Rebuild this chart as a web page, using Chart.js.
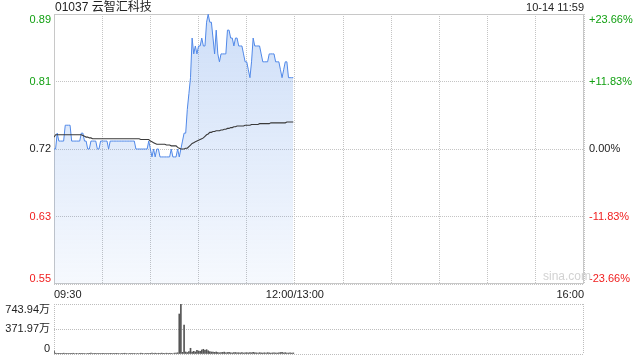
<!DOCTYPE html>
<html><head><meta charset="utf-8">
<script src="https://cdn.jsdelivr.net/npm/chart.js@4/dist/chart.umd.min.js"></script>
<style>
html,body{margin:0;padding:0;background:#fff;width:640px;height:360px;overflow:hidden}
#wrap{position:relative;width:640px;height:360px;font-family:"Liberation Sans",Arial,"Noto Sans CJK SC",sans-serif}
#title{position:absolute;left:55px;top:0;font-size:12px;line-height:14px;color:#222;white-space:nowrap}
#stamp{position:absolute;right:56px;top:1px;font-size:11px;line-height:12px;color:#222;white-space:nowrap}
#wm{position:absolute;left:543px;top:269px;font-size:12px;line-height:14px;color:#d2d2d2;white-space:nowrap}
#priceChart{position:absolute;left:0;top:0}
#volChart{position:absolute;left:0;top:300px}
</style></head>
<body><div id="wrap">
<canvas id="priceChart" width="640" height="300"></canvas>
<canvas id="volChart" width="640" height="60"></canvas>
<div id="title">01037 云智汇科技</div>
<div id="stamp">10-14 11:59</div>
<div id="wm">sina.com</div>
</div>
<script>
// ---- data ----
const prevClose = 0.72;
const pctRange = 23.66;
const prices = [
0.72,0.72,0.74,0.73,0.73,0.73,0.73,0.75,0.75,0.75,
0.75,0.73,0.73,0.73,0.73,0.73,0.73,0.74,0.74,0.73,
0.73,0.72,0.72,0.73,0.73,0.73,0.73,0.72,0.72,0.73,
0.73,0.73,0.73,0.73,0.72,0.73,0.73,0.73,0.73,0.73,
0.73,0.73,0.73,0.73,0.73,0.73,0.73,0.73,0.73,0.73,
0.73,0.72,0.72,0.72,0.72,0.72,0.72,0.72,0.72,0.73,
0.72,0.71,0.72,0.71,0.72,0.72,0.71,0.71,0.71,0.71,
0.71,0.71,0.71,0.72,0.71,0.71,0.71,0.72,0.71,0.72,
0.73,0.74,0.74,0.77,0.79,0.81,0.86,0.84,0.85,0.84,
0.85,0.85,0.86,0.85,0.85,0.88,0.89,0.88,0.88,0.86,
0.84,0.87,0.84,0.83,0.84,0.84,0.84,0.84,0.87,0.87,
0.86,0.86,0.85,0.86,0.86,0.85,0.85,0.85,0.84,0.83,
0.83,0.82,0.81,0.83,0.86,0.85,0.85,0.85,0.85,0.84,
0.83,0.83,0.83,0.83,0.84,0.84,0.84,0.84,0.83,0.83,
0.83,0.82,0.81,0.82,0.83,0.83,0.81,0.81,0.81,0.81
];
const avgPrices = [
0.735,0.738,0.738,0.738,0.738,0.738,0.738,0.738,0.738,0.738,
0.738,0.738,0.738,0.738,0.738,0.738,0.738,0.738,0.737,0.736,
0.735,0.735,0.734,0.734,0.733,0.733,0.733,0.733,0.733,0.733,
0.733,0.733,0.733,0.733,0.733,0.733,0.733,0.733,0.733,0.733,
0.733,0.733,0.733,0.733,0.733,0.733,0.733,0.733,0.733,0.733,
0.733,0.733,0.733,0.733,0.732,0.732,0.732,0.732,0.732,0.732,
0.730,0.729,0.728,0.727,0.726,0.726,0.726,0.726,0.726,0.726,
0.725,0.725,0.725,0.724,0.724,0.724,0.724,0.722,0.721,0.720,
0.720,0.720,0.721,0.721,0.723,0.725,0.727,0.728,0.729,0.730,
0.731,0.732,0.733,0.734,0.736,0.738,0.739,0.741,0.741,0.742,
0.742,0.743,0.743,0.743,0.744,0.744,0.745,0.745,0.746,0.746,
0.747,0.747,0.748,0.748,0.749,0.749,0.749,0.749,0.749,0.750,
0.750,0.750,0.750,0.751,0.751,0.751,0.751,0.751,0.752,0.752,
0.752,0.752,0.752,0.752,0.752,0.753,0.753,0.753,0.753,0.753,
0.753,0.753,0.753,0.753,0.753,0.754,0.754,0.754,0.754,0.754
];
const volumes = [
45,12,8,10,6,9,12,7,10,8,
6,9,11,7,5,8,10,6,9,7,
8,6,10,12,7,9,6,8,11,7,
9,6,8,10,7,5,8,9,6,10,
7,8,6,9,11,7,8,6,10,8,
9,7,6,8,12,10,7,9,6,8,
10,14,9,12,8,11,9,13,10,8,
12,9,11,10,8,13,15,18,595,744,
25,431,30,22,35,85,28,40,30,55,
45,38,60,70,55,65,48,35,30,28,
25,30,22,18,20,24,28,19,22,25,
18,15,20,22,17,19,16,21,15,18,
20,16,22,18,25,19,17,15,20,16,
14,18,15,20,17,13,16,19,15,14,
18,22,25,16,20,15,14,17,13,16
];
const gridMinutes = [0,30,60,90,120,150,180,210,240,270,300,330];
const timeTickMinutes = [0,150,330];
const timeTickLabels = ['09:30','12:00/13:00','16:00'];
const pctTicks = [23.66,11.83,0,-11.83,-23.66];
const priceTickLabels = ['0.89','0.81','0.72','0.63','0.55'];
const pctTickLabels = ['+23.66%','+11.83%','0.00%','-11.83%','-23.66%'];
const volTicks = [743.94,371.97,0];
const volTickLabels = ['743.94万','371.97万','0'];

const FONT = '"Liberation Sans", Arial, "Noto Sans CJK SC", sans-serif';
const GREEN = '#12a012', RED = '#f01e1e', DARK = '#222';
const labelColors = [GREEN, GREEN, DARK, RED, RED];

function vAlignFor(i, n){ return i === 0 ? 'top' : (i === n-1 ? 'bottom' : 'middle'); }

const priceFrame = {
  id: 'priceFrame',
  beforeDatasetsDraw(chart){
    const {ctx, chartArea:a} = chart;
    ctx.save();
    ctx.strokeStyle = '#c8c8c8'; ctx.lineWidth = 1;
    ctx.strokeRect(Math.round(a.left)+0.5, Math.round(a.top)+0.5, Math.round(a.right-a.left)-1, Math.round(a.bottom-a.top)-1);
    ctx.restore();
  },
  afterDraw(chart){
    const {ctx, chartArea:a, scales} = chart;
    ctx.save();
    ctx.font = '11px ' + FONT;
    pctTicks.forEach((v, i) => {
      const y = scales.y2.getPixelForValue(v);
      ctx.textBaseline = vAlignFor(i, pctTicks.length);
      ctx.fillStyle = labelColors[i];
      ctx.textAlign = 'right';
      ctx.fillText(priceTickLabels[i], a.left - 3, y);
      ctx.textAlign = 'left';
      ctx.fillText(pctTickLabels[i], a.right + 5, y);
    });
    ctx.restore();
  }
};

const volFrame = {
  id: 'volFrame',
  beforeDatasetsDraw(chart){
    const {ctx, chartArea:a} = chart;
    ctx.save();
    ctx.strokeStyle = '#bdbdbd'; ctx.lineWidth = 1; ctx.setLineDash([1,1]);
    ctx.beginPath();
    ctx.moveTo(Math.round(a.left)+0.5, a.top); ctx.lineTo(Math.round(a.left)+0.5, a.bottom);
    ctx.moveTo(Math.round(a.right)-0.5, a.top); ctx.lineTo(Math.round(a.right)-0.5, a.bottom);
    ctx.stroke();
    ctx.restore();
  },
  afterDraw(chart){
    const {ctx, chartArea:a, scales} = chart;
    ctx.save();
    ctx.font = '11px ' + FONT;
    ctx.fillStyle = DARK; ctx.textAlign = 'right';
    volTicks.forEach((v, i) => {
      const y = scales.y.getPixelForValue(v);
      ctx.textBaseline = vAlignFor(i, volTicks.length);
      ctx.fillText(volTickLabels[i], a.left - 4, y);
    });
    ctx.restore();
  }
};

function fillGradient(c){
  const {ctx, chartArea} = c.chart;
  if (!chartArea) return 'rgba(79,138,230,0.15)';
  const g = ctx.createLinearGradient(0, chartArea.top, 0, chartArea.bottom);
  g.addColorStop(0, 'rgba(79,138,230,0.28)');
  g.addColorStop(1, 'rgba(79,138,230,0.05)');
  return g;
}

new Chart(document.getElementById('priceChart'), {
  type: 'line',
  data: { datasets: [
    { data: avgPrices.map((p,i)=>({x:i,y:p})), borderColor:'#3a3a3a', borderWidth:1.1, pointRadius:0, fill:false, yAxisID:'y', order:1 },
    { data: prices.map((p,i)=>({x:i,y:p})), borderColor:'#5088e8', borderWidth:1, pointRadius:0, fill:'start', backgroundColor: fillGradient, yAxisID:'y', order:2 }
  ]},
  options: {
    responsive:false, animation:false, devicePixelRatio:1,
    layout:{padding:{top:14,left:0,right:0,bottom:0}},
    plugins:{legend:{display:false}, tooltip:{enabled:false}},
    scales:{
      x:{type:'linear', min:0, max:330,
        afterBuildTicks: s => { s.ticks = gridMinutes.map(v=>({value:v})); },
        grid:{color:'#c4c4c4', drawTicks:false},
        border:{display:false, dash:[1,1]},
        ticks:{autoSkip:false, maxRotation:0, minRotation:0, align:'inner', padding:4, color:DARK, font:{size:11, family:FONT},
          callback: v => { const k = timeTickMinutes.indexOf(v); return k >= 0 ? timeTickLabels[k] : ''; }},
        afterFit: s => { s.height = 16; }
      },
      y:{position:'left', min: prevClose*(1-pctRange/100), max: prevClose*(1+pctRange/100),
        grid:{display:false}, ticks:{display:false}, border:{display:false},
        afterFit: s => { s.width = 54; }
      },
      y2:{position:'right', min:-pctRange, max:pctRange,
        afterBuildTicks: s => { s.ticks = pctTicks.map(v=>({value:v})); },
        grid:{color:'#c4c4c4', drawTicks:false}, border:{display:false, dash:[1,1]}, ticks:{display:false},
        afterFit: s => { s.width = 56; }
      }
    }
  },
  plugins:[priceFrame]
});

new Chart(document.getElementById('volChart'), {
  type: 'bar',
  data: { datasets: [
    { data: volumes.map((v,i)=>({x:i,y:v})), backgroundColor:'#555', borderWidth:0, barThickness:1 }
  ]},
  options: {
    responsive:false, animation:false, devicePixelRatio:1,
    layout:{padding:{top:4,left:0,right:0,bottom:6}},
    plugins:{legend:{display:false}, tooltip:{enabled:false}},
    scales:{
      x:{type:'linear', min:0, max:330, offset:false, display:false, grid:{offset:false}},
      y:{position:'left', min:0, max:743.94,
        afterBuildTicks: s => { s.ticks = volTicks.map(v=>({value:v})); },
        grid:{color:'#bdbdbd', drawTicks:false}, border:{display:false, dash:[1,1]}, ticks:{display:false},
        afterFit: s => { s.width = 54; }
      },
      yr:{position:'right', grid:{display:false}, ticks:{display:false}, border:{display:false},
        afterFit: s => { s.width = 56; }
      }
    }
  },
  plugins:[volFrame]
});
</script>
</body></html>
